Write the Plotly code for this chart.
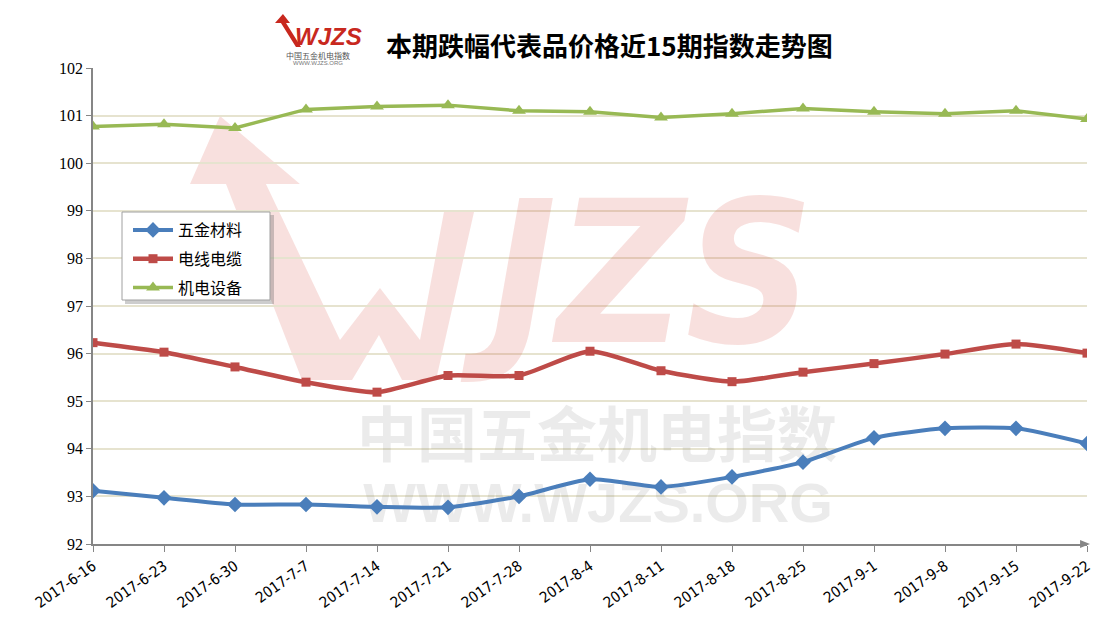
import plotly.graph_objects as go

dates = ["2017-6-16", "2017-6-23", "2017-6-30", "2017-7-7", "2017-7-14", "2017-7-21",
         "2017-7-28", "2017-8-4", "2017-8-11", "2017-8-18", "2017-8-25", "2017-9-1",
         "2017-9-8", "2017-9-15", "2017-9-22"]
hardware = [93.12, 92.97, 92.83, 92.83, 92.78, 92.77, 93.00, 93.36, 93.20, 93.41,
            93.72, 94.23, 94.43, 94.43, 94.11]
cable = [96.23, 96.03, 95.72, 95.40, 95.19, 95.54, 95.54, 96.05, 95.64, 95.41,
         95.61, 95.79, 95.99, 96.20, 96.01]
electro = [100.77, 100.82, 100.74, 101.13, 101.19, 101.22, 101.10, 101.08, 100.96, 101.04,
           101.15, 101.08, 101.04, 101.10, 100.93]
series_names = ["五金材料", "电线电缆", "机电设备"]
y_ticks = list(range(92, 103))

# page (screenshot) geometry; the html body adds an 8px offset
OFF = 8
PW, PH = 1111, 624
L, R, T, B = 93, 1087, 68, 544
FW, FH = PW - 2 * OFF, PH - 2 * OFF


def px(X):
    return (X - L) / (R - L)


def py(Y):
    return (B - Y) / (B - T)


def dx(X):
    return (X - L) / 71.0


def dy(Y):
    return 92 + (B - Y) / 47.6


idx = list(range(len(dates)))
fig = go.Figure()

# watermark text (drawn beneath the data lines)
fig.add_trace(go.Scatter(
    x=[dx(652), dx(597), dx(598)], y=[dy(292), dy(442), dy(508)],
    mode="text", text=["JZS", "中国五金机电指数", "WWW.WJZS.ORG"],
    textposition="middle center", hoverinfo="skip", showlegend=False,
    textfont=dict(family=["DejaVu Sans Condensed", "Noto Sans CJK SC", "Liberation Sans"],
                  size=[198, 60, 56],
                  color=["rgba(215,70,60,0.17)", "rgba(110,110,110,0.14)", "rgba(110,110,110,0.14)"],
                  weight="bold", style=["italic", "normal", "normal"]),
))

fig.add_trace(go.Scatter(
    x=idx, y=hardware, name=series_names[0], mode="lines+markers", legendgroup="a",
    line=dict(color="#4A7EBB", width=4, shape="spline", smoothing=0.6),
    marker=dict(symbol="diamond", size=12, color="#4A7EBB"),
))
fig.add_trace(go.Scatter(
    x=idx, y=cable, name=series_names[1], mode="lines+markers", legendgroup="b",
    line=dict(color="#BE4B48", width=4.5, shape="spline", smoothing=0.6),
    marker=dict(symbol="square", size=9, color="#BE4B48"),
))
fig.add_trace(go.Scatter(
    x=idx, y=electro, name=series_names[2], mode="lines+markers", legendgroup="c",
    line=dict(color="#98B954", width=3.5),
    marker=dict(symbol="triangle-up", size=12, color="#98B954"),
))

shapes = []
# pink arrow + W watermark
wpts = [(220, 116), (300, 184), (266, 184), (340, 340), (380, 288), (420, 340),
        (444, 212), (474, 212), (436, 380), (402, 380), (379, 335), (352, 380),
        (302, 380), (226, 184), (190, 184)]
path = "M " + " L ".join(f"{px(a):.4f},{py(b):.4f}" for a, b in wpts) + " Z"
shapes.append(dict(type="path", xref="paper", yref="paper", path=path,
                   fillcolor="rgba(215,70,60,0.17)", line=dict(width=0), layer="below"))
# legend shadow and box
shapes.append(dict(type="rect", xref="paper", yref="paper",
                   x0=px(125), x1=px(274), y0=py(215), y1=py(304),
                   fillcolor="rgba(90,90,90,0.30)", line=dict(width=0), layer="above"))
shapes.append(dict(type="rect", xref="paper", yref="paper",
                   x0=px(122), x1=px(270), y0=py(212), y1=py(300),
                   fillcolor="white", line=dict(width=1, color="#a0a0a0"), layer="above"))
# x-axis arrow head
shapes.append(dict(type="path", xref="paper", yref="paper",
                   path=f"M {px(1080):.4f},{py(540):.4f} L {px(1090):.4f},{py(544):.4f} L {px(1080):.4f},{py(548):.4f} Z",
                   fillcolor="#868686", line=dict(width=0), layer="above"))
# small logo arrow
shapes.append(dict(type="path", xref="paper", yref="paper",
                   path="M " + " L ".join(f"{px(a):.4f},{py(b):.4f}" for a, b in [(275, 23), (283, 14), (290, 23), (286, 23), (301, 47), (296, 47), (281, 23)]) + " Z",
                   fillcolor="#C8281E", line=dict(width=0), layer="above"))

annotations = [
    dict(text="<b>本期跌幅代表品价格近15期指数走势图</b>", xref="paper", yref="paper",
         x=px(609), y=py(45), showarrow=False, xanchor="center", yanchor="middle",
         font=dict(family="Noto Sans CJK SC", size=26, color="#000000")),
    dict(text="WJZS", xref="paper", yref="paper", x=px(328), y=py(36), showarrow=False,
         xanchor="center", yanchor="middle",
         font=dict(family="Liberation Sans", size=24, color="#C8281E", weight="bold", style="italic")),
    dict(text="中国五金机电指数", xref="paper", yref="paper", x=px(318), y=py(55), showarrow=False,
         xanchor="center", yanchor="middle",
         font=dict(family="Noto Sans CJK SC", size=8, color="#555555")),
    dict(text="WWW.WJZS.ORG", xref="paper", yref="paper", x=px(318), y=py(63), showarrow=False,
         xanchor="center", yanchor="middle",
         font=dict(family="Liberation Sans", size=6, color="#777777")),
]

fig.update_layout(
    width=FW, height=FH,
    margin=dict(l=L - OFF, r=FW - (R - OFF), t=T - OFF, b=FH - (B - OFF), autoexpand=False),
    paper_bgcolor="white", plot_bgcolor="white",
    shapes=shapes, annotations=annotations,
    showlegend=True,
    legend=dict(x=px(128), y=py(213), xanchor="left", yanchor="top",
                bgcolor="rgba(0,0,0,0)", borderwidth=0,
                font=dict(family="Noto Sans CJK SC", size=16, color="#000000"),
                tracegroupgap=5, itemwidth=40),
    xaxis=dict(range=[0, 14], tickmode="array", tickvals=idx, ticktext=dates,
               tickangle=-35, ticks="outside", ticklen=6, tickcolor="#868686",
               showline=True, linecolor="#868686", linewidth=1.5, automargin=False,
               showgrid=False, zeroline=False,
               tickfont=dict(family="DejaVu Sans Condensed", size=15, color="#000000")),
    yaxis=dict(range=[92, 102], tickmode="array", tickvals=y_ticks, automargin=False,
               ticks="outside", ticklen=5, tickcolor="#868686",
               showline=True, linecolor="#868686", linewidth=1.5,
               showgrid=True, gridcolor="#E6E3CF", gridwidth=1.5, zeroline=False,
               tickfont=dict(family="Liberation Serif", size=16, color="#000000")),
)

fig.write_html("out.html")
